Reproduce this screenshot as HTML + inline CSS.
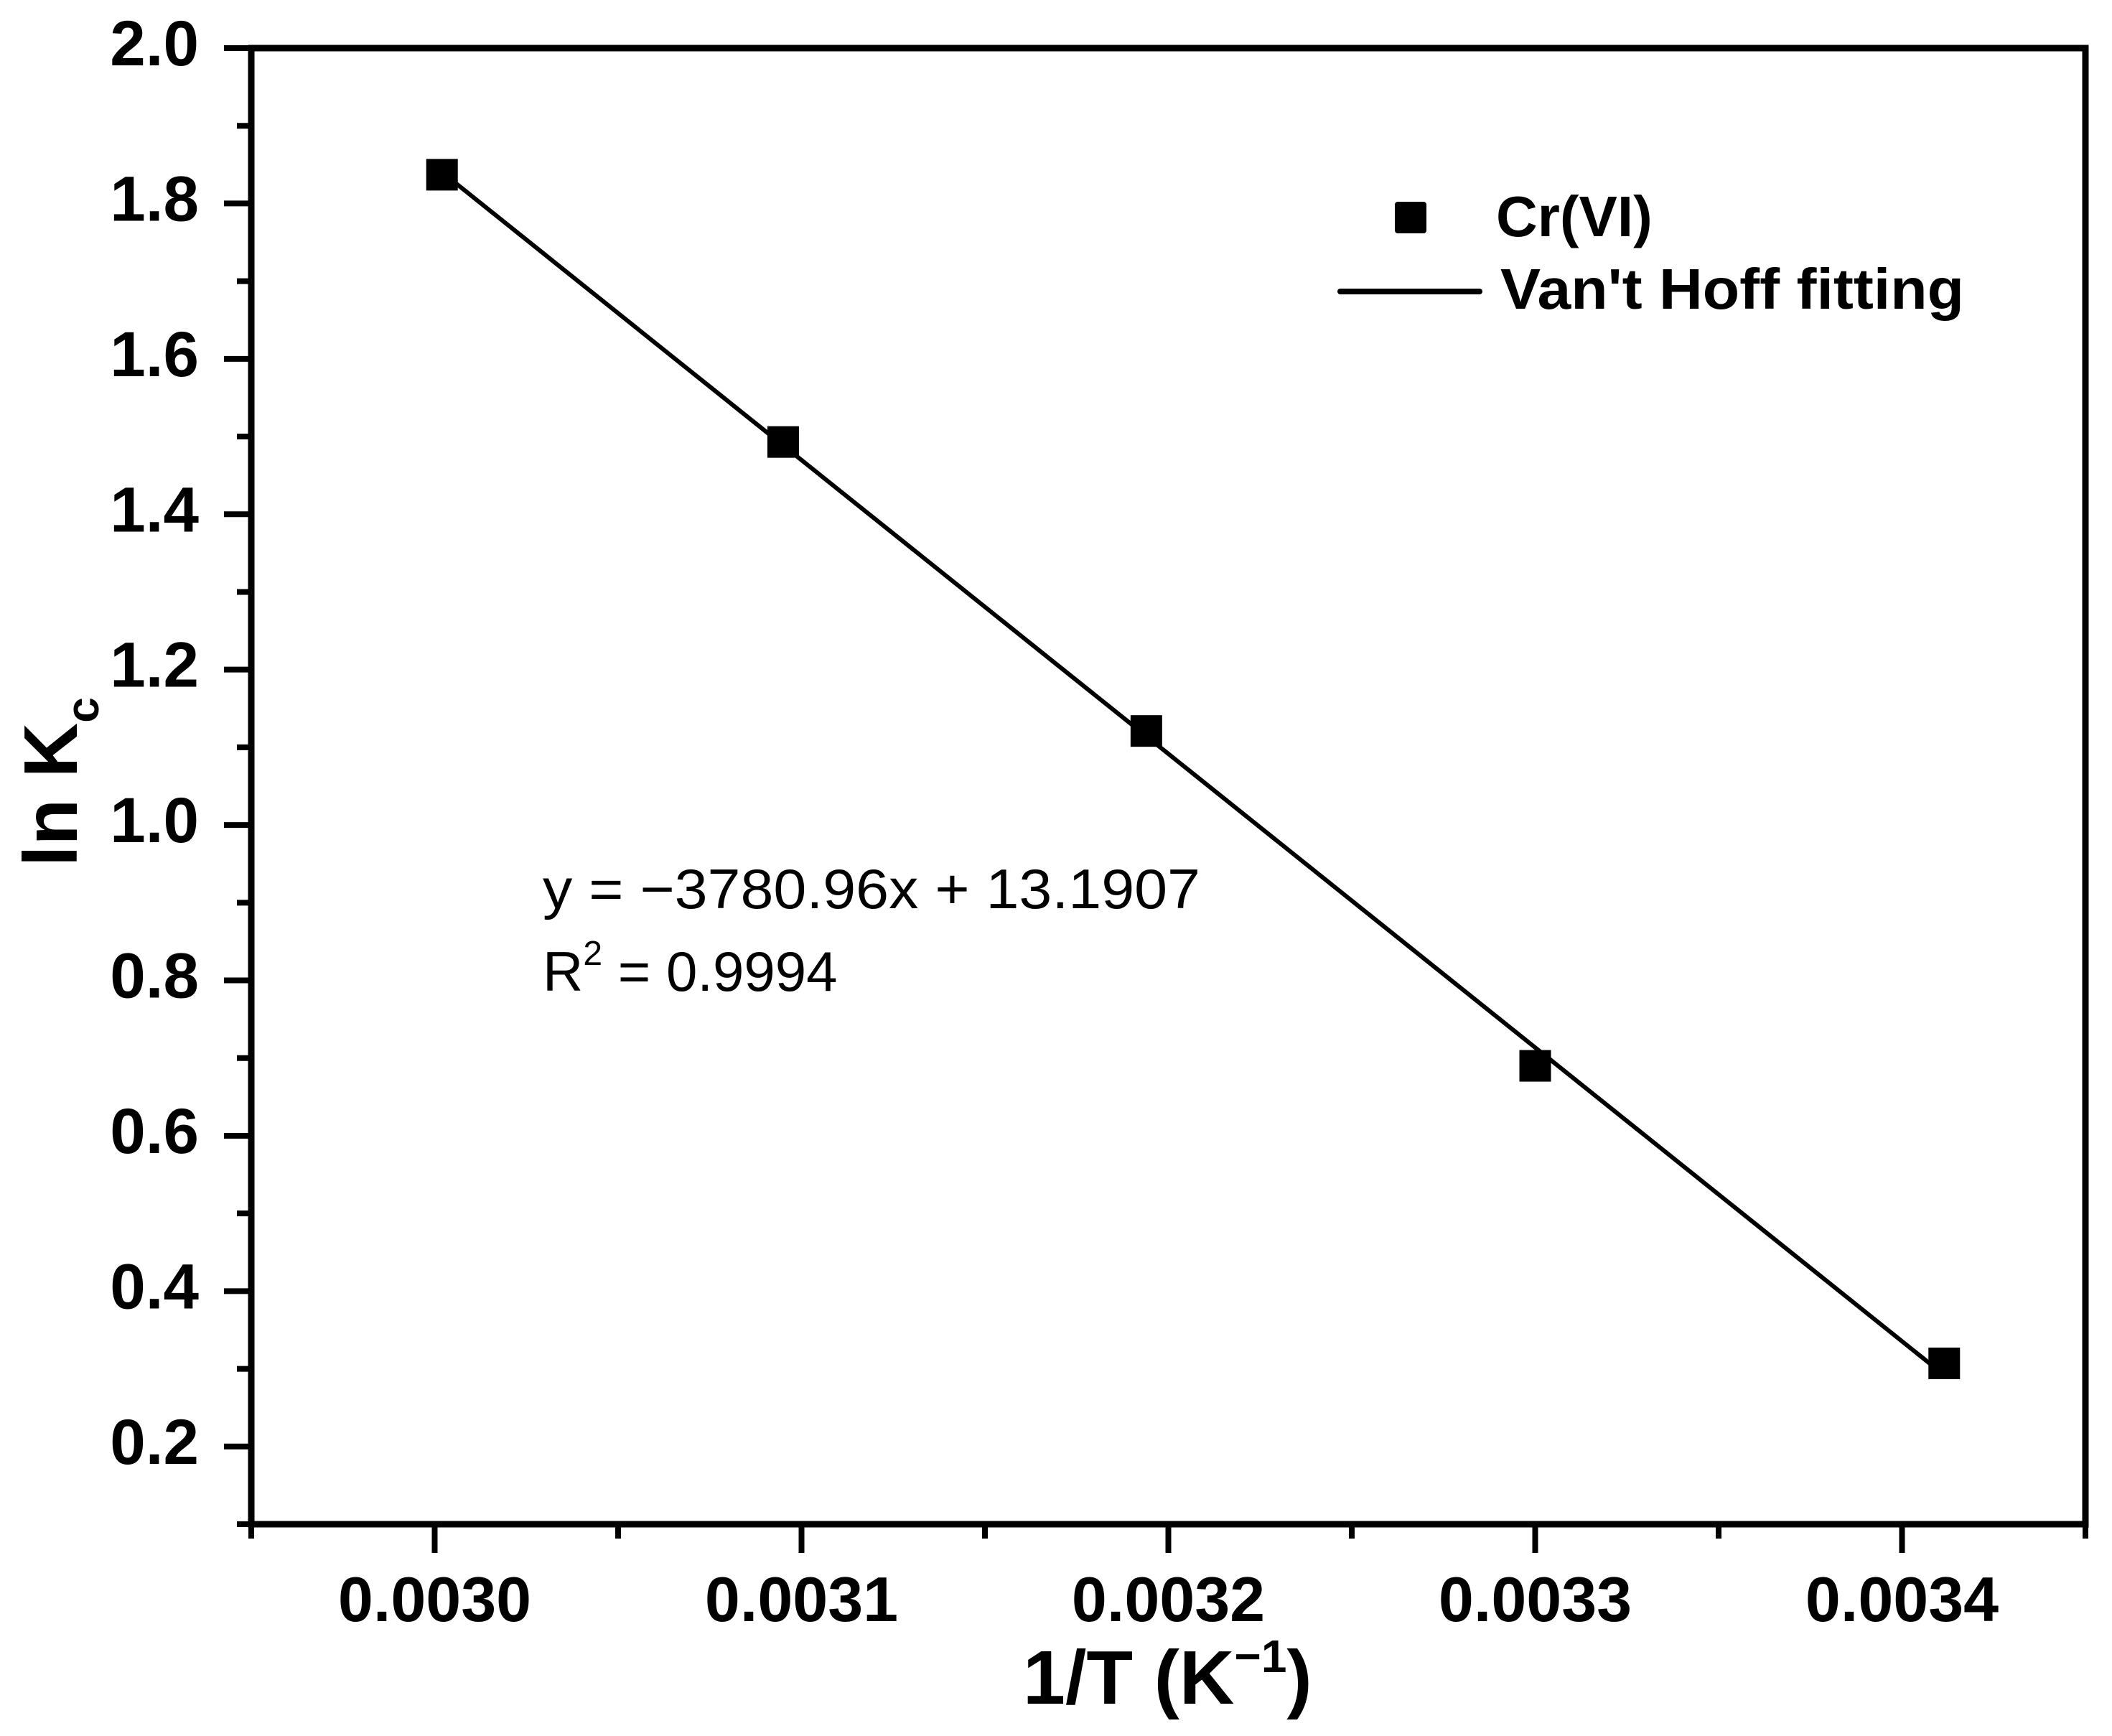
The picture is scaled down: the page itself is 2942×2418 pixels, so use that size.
<!DOCTYPE html>
<html><head><meta charset="utf-8">
<style>
html,body{margin:0;padding:0;background:#fff;}
svg{display:block;}
text{font-family:"Liberation Sans",Arial,sans-serif;fill:#000;}
</style></head>
<body>
<svg id="chart" width="2942" height="2418" viewBox="0 0 2942 2418" xmlns="http://www.w3.org/2000/svg">
<g id="plot"></g>
</svg>
<script>
const xValues = [0.003002, 0.003095, 0.003194, 0.003300, 0.0034115];
const yValues = [1.837, 1.493, 1.121, 0.690, 0.307];
const fitSlope = -3780.96;
const fitIntercept = 13.1907;
const xTicks = [0.0030, 0.0031, 0.0032, 0.0033, 0.0034];
const xTickLabels = ["0.0030", "0.0031", "0.0032", "0.0033", "0.0034"];
const yTicks = [0.2, 0.4, 0.6, 0.8, 1.0, 1.2, 1.4, 1.6, 1.8, 2.0];
const yTickLabels = ["0.2", "0.4", "0.6", "0.8", "1.0", "1.2", "1.4", "1.6", "1.8", "2.0"];

const NS = "http://www.w3.org/2000/svg";
const L = 350, R = 2905, T = 67, B = 2123;
const xMin = 0.002950, xMax = 0.003450, yMin = 0.1, yMax = 2.0;
function sx(v){ return L + (v - xMin) / (xMax - xMin) * (R - L); }
function sy(v){ return B - (v - yMin) / (yMax - yMin) * (B - T); }
const g = document.getElementById('plot');
function mk(tag, attrs){ const e = document.createElementNS(NS, tag); for (const k in attrs) e.setAttribute(k, attrs[k]); g.appendChild(e); return e; }

const frame = mk('rect', {x:L, y:T, width:R-L, height:B-T, fill:'none', stroke:'#000', 'stroke-width':9});



for (let i = 0; i < xTicks.length; i++) {
  const x = sx(xTicks[i]);
  const t = mk('line', {x1:x, x2:x, y1:B, y2:B+40, stroke:'#000', 'stroke-width':8});
  
  
  const lb = mk('text', {x:x, y:2258, 'font-size':88, 'font-weight':'bold', 'text-anchor':'middle'});
  lb.textContent = xTickLabels[i];
  
  
}
for (let v = xMin; v <= xMax + 1e-9; v += 0.0001) {
  const x = sx(v);
  const t = mk('line', {x1:x, x2:x, y1:B, y2:B+20, stroke:'#000', 'stroke-width':8});
  
  
}
for (let i = 0; i < yTicks.length; i++) {
  const y = sy(yTicks[i]);
  const t = mk('line', {x1:L-38, x2:L, y1:y, y2:y, stroke:'#000', 'stroke-width':8});
  
  
  const lb = mk('text', {x:277, y:y+24, 'font-size':89, 'font-weight':'bold', 'text-anchor':'end'});
  lb.textContent = yTickLabels[i];
  
  
}
for (let v = yMin; v <= yMax + 1e-9; v += 0.2) {
  const y = sy(v);
  const t = mk('line', {x1:L-20, x2:L, y1:y, y2:y, stroke:'#000', 'stroke-width':8});
  
  
}

const x0 = xValues[0], x1 = xValues[xValues.length-1];
const fit = mk('line', {x1:sx(x0), y1:sy(fitSlope*x0+fitIntercept), x2:sx(x1), y2:sy(fitSlope*x1+fitIntercept), stroke:'#000', 'stroke-width':6});



for (let i = 0; i < xValues.length; i++) {
  const p = mk('rect', {x:sx(xValues[i])-22, y:sy(yValues[i])-22, width:44, height:44, fill:'#000'});
  
  
}
</script>
<svg style="position:absolute;left:0;top:0" width="2942" height="2418" xmlns="http://www.w3.org/2000/svg">
<g>
  <rect x="1943" y="281" width="44" height="44" rx="4" fill="#000"/>
  <text x="2084" y="329" font-size="80" font-weight="bold">Cr(VI)</text>
  <line x1="1867" y1="406" x2="2061" y2="406" stroke="#000" stroke-width="8" stroke-linecap="round"/>
  <text x="2090" y="430" font-size="80" font-weight="bold" textLength="646" lengthAdjust="spacingAndGlyphs">Van't Hoff fitting</text>
</g>
<text x="756" y="1265" font-size="78" textLength="916" lengthAdjust="spacingAndGlyphs">y = −3780.96x + 13.1907</text>
<text x="756" y="1380" font-size="78">R<tspan font-size="48" dy="-36">2</tspan><tspan dy="36"> = 0.9994</tspan></text>
<text x="1425" y="2373" font-size="106" font-weight="bold">1/T (K<tspan font-size="64" dy="-44">−1</tspan><tspan dy="44">)</tspan></text>
<text transform="translate(107,1207) rotate(-90)" x="0" y="0" font-size="106" font-weight="bold">ln K<tspan font-size="64" dy="30">c</tspan></text>
</svg>
</body></html>
